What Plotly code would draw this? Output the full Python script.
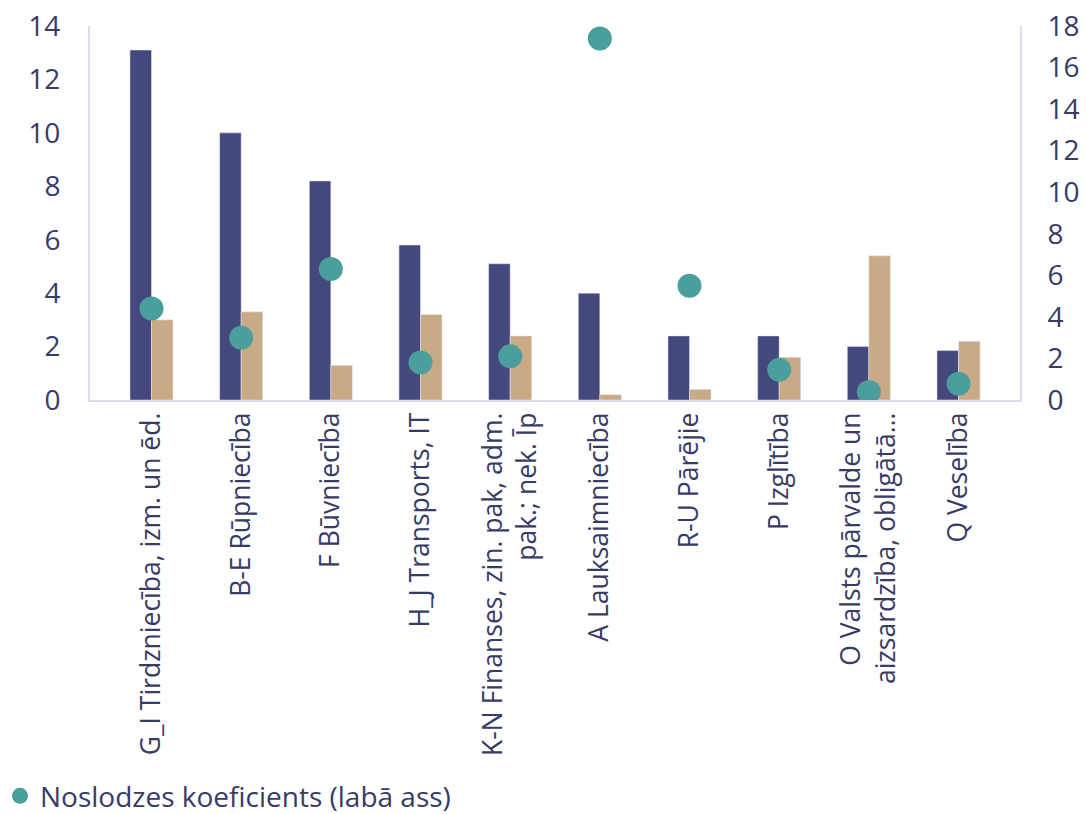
import plotly.graph_objects as go

categories = [
    "G_I Tirdzniecība, izm. un ēd.",
    "B-E Rūpniecība",
    "F Būvniecība",
    "H_J Transports, IT",
    "K-N Finanses, zin. pak, adm.<br>pak.; nek. Īp",
    "A Lauksaimniecība",
    "R-U Pārējie",
    "P Izglītība",
    "O Valsts pārvalde un<br>aizsardzība, obligātā…",
    "Q Veselība",
]
series_a = [13.1, 10.0, 8.2, 5.8, 5.1, 4.0, 2.4, 2.4, 2.0, 1.85]
series_b = [3.0, 3.3, 1.3, 3.2, 2.4, 0.2, 0.4, 1.6, 5.4, 2.2]
noslodze = [4.4, 3.0, 6.3, 1.8, 2.1, 17.4, 5.5, 1.45, 0.38, 0.78]

navy = "#45487c"
tan = "#c8aa86"
teal = "#4a9e9c"
text_col = "#383b66"
axis_col = "#dadaec"

fig = go.Figure()
fig.add_trace(go.Bar(x=categories, y=series_a, name="A", marker_color=navy,
                     showlegend=False))
fig.add_trace(go.Bar(x=categories, y=series_b, name="B", marker_color=tan,
                     showlegend=False))
fig.add_trace(go.Scatter(x=categories, y=noslodze, yaxis="y2", mode="markers",
                         name="Noslodzes koeficients (labā ass)",
                         marker=dict(color=teal, size=24)))

fig.update_layout(
    width=1086, height=814,
    margin=dict(l=90, r=66, t=26, b=414, autoexpand=False),
    paper_bgcolor="white", plot_bgcolor="white",
    font=dict(family="Open Sans", color=text_col, size=28),
    barmode="group", bargap=0.52, bargroupgap=0,
    xaxis=dict(tickangle=-90, tickfont=dict(size=26.5), showline=True,
               linecolor=axis_col, linewidth=2, ticks="", showgrid=False,
               automargin=False),
    yaxis=dict(range=[0, 14], dtick=2, showgrid=False, zeroline=False,
               showline=True, linecolor=axis_col, linewidth=2,
               ticklabelstandoff=22, automargin=False,
               ticklabeloverflow="allow"),
    yaxis2=dict(range=[0, 18], dtick=2, overlaying="y", side="right",
                showgrid=False, zeroline=False, showline=True,
                linecolor=axis_col, linewidth=2, ticklabelstandoff=20,
                automargin=False, ticklabeloverflow="allow"),
    legend=dict(orientation="h", xref="container", x=0.0, xanchor="left",
                yref="container", y=0.022, yanchor="middle",
                font=dict(size=28), itemwidth=30),
)

# drop the page's default body margin so the figure fills the window
fig.write_html("out.html", config={"displayModeBar": False},
               post_script="document.body.style.margin = '0';")
